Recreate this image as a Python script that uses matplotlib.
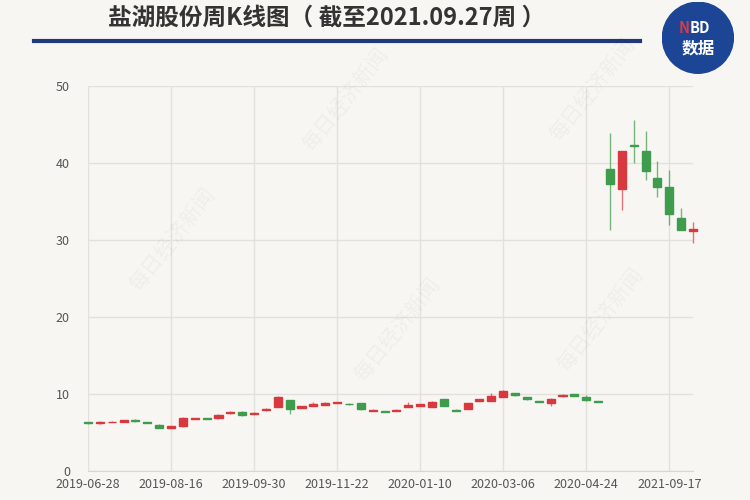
import matplotlib.pyplot as plt
from matplotlib.patches import Circle

plt.rcParams['font.family'] = ['Noto Sans CJK SC', 'DejaVu Sans']

# 周K线数据（开、收、高、低）
opens = [6.3, 6.2, 6.35, 6.4, 6.6, 6.35, 6.0, 5.6, 5.8, 6.75, 6.85, 6.85, 7.5,
         7.7, 7.4, 7.9, 8.3, 9.2, 8.2, 8.5, 8.6, 8.85, 8.75, 8.8, 7.8, 7.8,
         7.85, 8.35, 8.5, 8.3, 9.3, 7.95, 8.1, 9.1, 9.1, 9.6, 10.1, 9.6, 9.05,
         8.8, 9.7, 9.95, 9.6, 9.05, 39.2, 36.6, 42.3, 41.5, 38.1, 36.9, 32.8, 31.2]
closes = [6.2, 6.4, 6.35, 6.6, 6.45, 6.25, 5.6, 5.8, 6.9, 6.85, 6.75, 7.3, 7.7,
          7.25, 7.55, 8.1, 9.6, 8.1, 8.4, 8.7, 8.85, 8.95, 8.65, 8.0, 7.95, 7.7,
          7.95, 8.55, 8.65, 8.9, 8.5, 7.85, 8.8, 9.3, 9.7, 10.4, 9.85, 9.3, 8.95,
          9.4, 9.9, 9.8, 9.2, 8.95, 37.3, 41.5, 42.2, 39.0, 36.9, 33.4, 31.3, 31.4]
highs = [6.35, 6.45, 6.45, 6.65, 6.7, 6.4, 6.05, 5.85, 6.95, 6.9, 6.9, 7.35, 7.75,
         7.75, 7.6, 8.15, 9.7, 9.25, 8.5, 8.9, 8.9, 9.0, 8.8, 8.85, 8.0, 7.85,
         8.0, 8.9, 8.7, 9.1, 9.35, 8.0, 8.85, 9.35, 10.1, 10.5, 10.15, 9.65, 9.1,
         9.45, 9.95, 10.0, 9.9, 9.1, 43.9, 41.5, 45.6, 44.1, 40.2, 39.1, 34.1, 32.4]
lows = [6.15, 6.15, 6.3, 6.35, 6.4, 6.2, 5.55, 5.55, 5.75, 6.7, 6.7, 6.8, 7.45,
        7.2, 7.35, 7.85, 8.25, 7.4, 8.15, 8.45, 8.55, 8.8, 8.6, 7.95, 7.75, 7.65,
        7.8, 8.3, 8.45, 8.25, 8.45, 7.8, 8.05, 9.05, 9.05, 9.55, 9.8, 9.25, 8.9,
        8.4, 9.65, 9.75, 9.15, 8.9, 31.3, 33.9, 40.0, 37.8, 35.6, 31.9, 31.3, 29.6]

tick_pos = [0, 7, 14, 21, 28, 35, 42, 49]
tick_labels = ['2019-06-28', '2019-08-16', '2019-09-30', '2019-11-22',
               '2020-01-10', '2020-03-06', '2020-04-24', '2021-09-17']

bg = '#f8f6f3'
red = '#d8393e'
green = '#3f9c4c'

fig = plt.figure(figsize=(7.5, 5), dpi=100, facecolor=bg)
ax = fig.add_axes([0.1173, 0.058, 0.8067, 0.77])
ax.set_facecolor(bg)

for i in range(len(opens)):
    o, c, h, l = opens[i], closes[i], highs[i], lows[i]
    col = red if c >= o else green
    ax.vlines(i, l, h, color=col, linewidth=1, alpha=0.7, zorder=2, clip_on=False)
    ax.bar(i, abs(c - o), bottom=min(o, c), width=0.68, color=col,
           edgecolor=col, linewidth=1, zorder=3, clip_on=False)

ax.set_xlim(0, 51)
ax.set_ylim(0, 50)
ax.set_yticks([0, 10, 20, 30, 40, 50])
ax.set_xticks(tick_pos)
ax.set_xticklabels(tick_labels)
ax.tick_params(length=0, labelsize=9, colors='#555555', pad=5)
ax.tick_params(axis='y', pad=13)
ax.grid(True, color='#e3e1de', linewidth=1)
ax.set_axisbelow(True)
for s in ['top', 'right', 'left']:
    ax.spines[s].set_visible(False)
ax.spines['bottom'].set_color('#d8d6d3')

# 水印
for (wx, wy) in [(0.46, 0.80), (0.79, 0.82), (0.53, 0.34), (0.23, 0.52), (0.80, 0.36)]:
    fig.text(wx, wy, '每日经济新闻', rotation=52, fontsize=15, color='#000000',
             alpha=0.035, ha='center', va='center')

# 标题
fig.text(0.435, 0.965, '盐湖股份周K线图（ 截至2021.09.27周 ）', fontsize=17,
         fontweight='bold', color='#333333', ha='center', va='center')
fig.add_artist(plt.Line2D([0.045, 0.853], [0.918, 0.918], color='#1f3a78',
                          linewidth=3))

# 角标
logo = fig.add_axes([0.882, 0.852, 0.097, 0.145])
logo.set_xlim(-1, 1)
logo.set_ylim(-1, 1)
logo.set_aspect('equal')
logo.axis('off')
logo.add_patch(Circle((0, 0), 0.98, color='#1c4595'))
logo.text(-0.22, 0.28, 'N', color='#e0393e', fontsize=10.5, fontweight='bold',
          ha='right', va='center')
logo.text(-0.24, 0.28, 'BD', color='white', fontsize=10.5, fontweight='bold',
          ha='left', va='center')
logo.text(0, -0.3, '数据', color='white', fontsize=12, fontweight='bold',
          ha='center', va='center')

fig.savefig('out.png', dpi=100, facecolor=bg)
